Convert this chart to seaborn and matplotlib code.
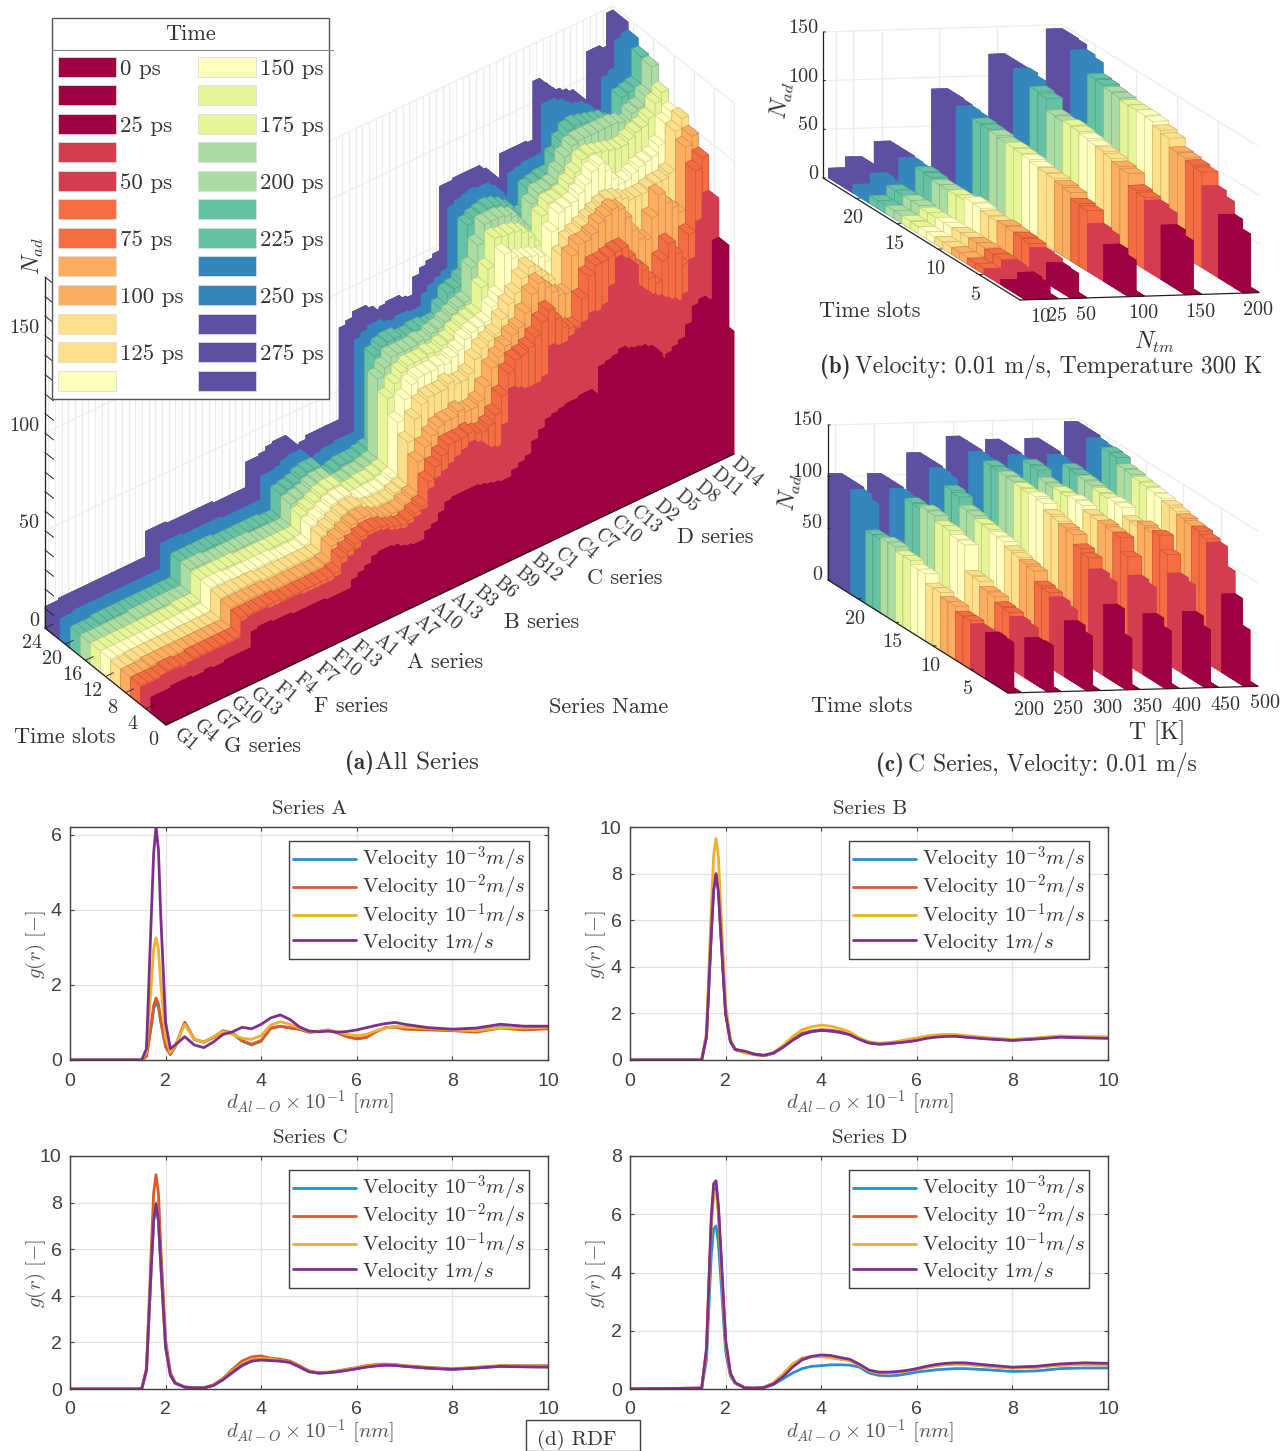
import numpy as np
import pandas as pd
import matplotlib
matplotlib.use("Agg")
import matplotlib.pyplot as plt
import seaborn as sns
from matplotlib.lines import Line2D
from matplotlib.patches import Patch, Rectangle
from mpl_toolkits.mplot3d import proj3d

W, H = 1280, 1451

sns.set_theme(style="white")
plt.rcParams["font.family"] = ["cmr10", "DejaVu Serif"]
plt.rcParams["mathtext.fontset"] = "cm"
plt.rcParams["axes.formatter.use_mathtext"] = False
plt.rcParams["axes.unicode_minus"] = False

# ==========================================================
# DATA
# ==========================================================

series_ticks = ["G1", "G4", "G7", "G10", "G13", "F1", "F4", "F7", "F10", "F13",
                "A1", "A4", "A7", "A10", "A13", "B3", "B6", "B9", "B12",
                "C1", "C4", "C7", "C10", "C13", "D2", "D5", "D8", "D11", "D14"]

# panel a, N_ad per series, one list per time band (front to back)
a_crimson_front = [7,7,7,7,8,8,7,7,7,7,7,8,8,8,8, 14,15,15,14,14,14,13,13,13,13,13,12,12,12,12,
                   16,18,19,22,23,23,22,20,19,18,18,22,24, 27,31,32,32,32,32,31,30,29,28,28,31,33,34,
                   40,43,47,48,48,49,49,50,50,40,59,60,61,62, 60,60,59,57,52,48,50,52,54,59,66,68,65,63]
a_crimson_rear = [8,8,8,9,9,9,8,8,9,8,8,9,9,9,9, 17,18,18,17,17,17,16,16,16,16,16,15,15,15,15,
                  19,21,23,26,27,27,26,24,23,22,22,26,28, 32,36,37,37,37,37,36,35,34,33,33,36,38,40,
                  46,50,54,55,56,57,57,58,58,47,68,69,70,72, 70,69,68,66,60,56,58,60,62,68,76,78,75,105]
a_red = [9,9,9,10,10,10,9,10,10,10,10,10,10,10,10, 18,19,19,19,18,18,18,18,18,17,17,17,17,17,18,
         23,25,27,30,31,31,30,28,27,26,27,29,31,
         40,44,46,48,50,52,54,52,48,46,45,55,72,70,
         68,68,68,70,84,82,82,84,86,88,91,90,92,100,
         113,110,96,92,88,85,83,80,78,75,78,94,112,125]
a_orange = [10,10,10,10,11,11,10,10,11,11,11,11,11,11,11, 20,20,20,20,20,20,19,19,19,19,19,19,19,19,20,
            26,28,30,32,33,33,32,30,29,28,29,31,33,
            44,50,54,58,58,58,59,57,56,58,62,70,80,85,
            86,88,92,98,102,96,90,88,87,100,110,114,114,115,
            116,116,110,104,100,94,90,100,107,100,93,107,138,143]
a_peach = [10,10,10,11,11,11,11,11,11,11,11,11,11,11,11, 21,21,21,21,21,21,20,20,20,20,20,20,20,20,21,
           28,30,32,34,35,35,33,31,30,30,30,32,34,
           50,56,60,63,64,64,66,64,64,66,72,80,84,88,
           92,94,100,108,112,108,104,101,100,118,122,122,124,128,
           130,132,130,124,116,110,108,118,128,122,118,114,146,150]
a_yellow = [10,10,11,11,11,11,11,11,11,11,11,11,11,11,11, 22,22,22,22,22,22,21,21,21,21,21,21,21,21,21,
            29,31,33,35,36,36,33,32,31,31,31,33,34,
            56,66,72,74,74,74,76,74,74,76,82,86,88,90,
            96,102,106,112,116,112,108,104,96,114,120,122,124,126,
            128,130,131,130,128,126,126,126,127,128,128,130,150,155]
a_pale = [11,11,11,11,11,11,11,11,11,11,11,11,11,11,11, 23,23,23,22,22,22,22,22,22,22,21,21,21,21,22,
          30,32,34,36,37,37,33,32,32,32,32,33,35,
          62,72,78,80,80,80,81,80,82,84,88,90,91,92,
          98,102,122,118,116,115,114,112,108,122,130,131,132,135,
          138,143,145,140,134,130,130,132,134,135,136,140,150,154]
a_yg = [11,11,11,11,11,11,11,11,11,11,11,11,12,12,12, 23,23,23,23,23,23,22,22,22,22,22,22,22,22,22,
        31,33,35,37,38,38,33,32,32,33,33,34,35,
        70,76,80,82,82,82,83,82,84,85,88,90,91,92,
        104,112,126,125,125,124,122,118,112,126,131,131,132,136,
        140,145,146,145,144,143,142,142,144,146,147,150,156,160]
a_lgreen = [11,11,11,11,11,11,11,12,12,12,12,12,12,12,12, 24,24,24,23,23,23,23,23,23,23,22,22,22,22,22,
            33,34,35,37,38,38,33,32,32,33,33,34,35,
            76,80,84,84,84,84,85,84,86,87,89,91,93,94,
            110,120,129,129,129,128,126,121,116,128,132,132,133,138,
            144,148,149,149,149,149,149,149,148,146,150,151,156,169]
a_teal = [11,11,11,12,12,12,12,12,12,12,12,12,12,12,12, 24,24,24,24,24,24,23,23,23,23,23,23,23,22,22,
          34,35,36,38,39,39,34,32,33,34,34,34,35,
          36,82,85,86,86,84,84,85,85,84,84,90,96,97,
          100,126,128,129,130,129,127,124,118,118,130,131,132,132,
          140,146,150,151,150,149,148,147,144,140,154,155,156,170]
a_blue = [11,11,12,12,12,12,12,12,12,12,12,12,12,12,12, 25,25,25,24,24,24,24,24,24,23,23,23,23,23,23,
          35,35,36,38,39,39,34,32,33,34,34,35,35,
          35,82,84,86,86,84,83,84,84,83,83,89,92,94,
          96,127,129,130,131,130,130,127,120,119,130,131,132,132,
          132,157,157,155,152,150,149,146,141,136,156,158,172,174]
a_purple = [11,11,12,12,12,12,12,12,12,12,12,12,12,12,12, 25,25,25,24,24,24,24,24,24,24,23,23,23,23,23,
            36,36,37,39,40,40,34,32,33,35,35,35,35,
            35,82,84,87,87,85,82,83,84,84,82,81,90,93,
            95,97,130,130,131,131,131,131,128,120,118,132,132,132,
            132,131,161,157,153,151,149,147,142,136,163,163,161,178]

# panel b, N_ad per time slot (1 to 24) for each N_tm
b_ntm = [10, 25, 50, 100, 150, 200]
b_n10 = [0.5,4,5,5,6,6,6,7,7,7,7,7,7,7,8,8,8,8,8,9,9,10,10,10]
b_n25 = [0.5,10,12,13,14,15,15,16,16,16,16,16,16,16,16,18,18,18,18,18,20,21,21,21]
b_n50 = [0.5,20,21,25,26,30,31,32,33,32,33,35,36,33,33,33,33,35,36,34,35,36,36,36]
b_n100 = [0.5,32,38,47,49,62,64,70,72,74,75,76,78,79,80,80,82,83,84,85,86,87,88,88]
b_n150 = [0.5,50,56,68,71,74,76,88,90,93,95,96,98,100,101,100,101,113,115,120,123,122,122,122]
b_n200 = [0.5,55,65,78,84,98,100,102,103,112,115,119,120,120,120,122,123,125,126,137,140,145,146,146]

# panel c, N_ad per time slot (1 to 24) for each temperature
c_temp = [200, 250, 300, 350, 400, 450, 500]
c_200 = [0.5,44,45,44,44,47,47,52,52,56,56,65,65,69,69,73,73,71,71,96,101,103,103,103]
c_250 = [0.5,40,39,48,50,54,55,60,61,66,67,92,93,97,97,102,103,100,101,100,101,102,102,102]
c_300 = [0.5,48,54,64,68,72,74,84,86,88,90,94,95,97,98,101,102,110,112,118,120,121,121,121]
c_350 = [0.5,45,69,90,94,105,109,118,120,122,124,130,132,131,132,133,134,134,135,134,135,136,136,136]
c_400 = [0.5,51,59,84,87,105,119,120,122,122,123,127,128,126,127,126,127,134,135,130,131,132,132,132]
c_450 = [0.5,51,60,85,88,106,120,118,120,115,116,124,125,124,125,127,128,129,130,129,130,132,132,132]
c_500 = [0.5,50,76,98,117,120,123,124,126,128,130,132,133,134,135,137,138,144,145,144,145,147,147,147]

# panel d, radial distribution functions
rdf_r = [0,1.5,1.6,1.7,1.75,1.8,1.85,1.9,2.0,2.1,2.2,2.4,2.6,2.8,3.0,3.2,3.4,3.6,3.8,4.0,
         4.2,4.4,4.6,4.8,5.0,5.2,5.4,5.6,5.8,6.0,6.2,6.4,6.6,6.8,7.0,7.5,8.0,8.5,9.0,9.5,10]
a_g3 = [0,0,.1,.9,1.35,1.55,1.4,1.0,.35,.15,.35,1.0,.55,.47,.6,.77,.7,.5,.4,.5,
        .85,.9,.85,.82,.74,.76,.78,.72,.62,.57,.6,.76,.86,.88,.84,.82,.79,.78,.87,.82,.85]
a_g2 = [0,0,.1,.95,1.45,1.65,1.5,1.05,.38,.15,.36,1.0,.55,.48,.6,.78,.72,.52,.42,.52,
        .84,.9,.86,.82,.74,.76,.8,.72,.62,.56,.6,.75,.86,.88,.82,.8,.78,.74,.85,.8,.83]
a_g1 = [0,0,.2,2.0,2.95,3.25,2.95,2.0,.6,.2,.38,.95,.55,.48,.62,.76,.68,.58,.55,.65,
        .93,1.02,.95,.85,.76,.77,.8,.75,.68,.65,.68,.78,.85,.9,.87,.84,.8,.78,.86,.85,.87]
a_g0 = [0,0,.3,3.8,5.5,6.2,5.6,3.8,1.0,.3,.4,.62,.4,.33,.48,.68,.75,.87,.83,.95,
        1.12,1.2,1.08,.88,.77,.75,.77,.74,.76,.8,.86,.92,.97,1.0,.95,.86,.82,.85,.95,.9,.9]
b_g3 = [0,0,1.0,5.5,7.4,8.0,7.3,5.5,2.0,.8,.45,.35,.25,.18,.28,.55,.85,1.1,1.22,1.28,
        1.25,1.2,1.1,.9,.75,.68,.7,.75,.8,.85,.95,1.0,1.03,1.04,1.0,.92,.85,.92,1.0,.97,.95]
b_g2 = [0,0,1.0,5.5,7.4,8.0,7.3,5.5,2.0,.82,.47,.33,.25,.2,.3,.58,.9,1.15,1.25,1.3,
        1.28,1.22,1.12,.92,.76,.7,.72,.76,.82,.88,.96,1.02,1.05,1.05,1.0,.93,.86,.93,1.0,.98,.97]
b_g1 = [0,0,1.2,6.5,8.8,9.5,8.7,6.5,2.4,.9,.45,.3,.22,.18,.3,.62,1.0,1.3,1.42,1.5,
        1.45,1.35,1.2,.95,.78,.72,.75,.8,.88,.95,1.03,1.08,1.1,1.1,1.05,.96,.88,.95,1.03,1.0,1.0]
b_g0 = [0,0,1.0,5.4,7.3,7.95,7.2,5.4,2.0,.8,.45,.38,.25,.2,.3,.55,.85,1.1,1.22,1.27,
        1.24,1.18,1.08,.88,.73,.68,.7,.74,.78,.84,.93,.98,1.01,1.02,.98,.9,.84,.9,.98,.95,.93]
c_g3 = [0,0,.8,5.2,7.2,7.9,7.2,5.3,1.8,.6,.25,.08,.05,.05,.15,.4,.7,1.0,1.2,1.25,
        1.22,1.2,1.15,.95,.75,.68,.7,.75,.82,.88,.95,1.0,1.03,1.02,.98,.9,.85,.9,.98,.96,.95]
c_g2 = [0,0,.9,6.0,8.4,9.2,8.4,6.1,2.1,.7,.28,.08,.05,.05,.18,.45,.85,1.2,1.38,1.42,
        1.32,1.28,1.2,1.0,.78,.7,.72,.78,.85,.92,1.0,1.05,1.07,1.05,1.0,.93,.87,.93,1.0,1.0,1.0]
c_g1 = [0,0,.8,5.3,7.3,8.0,7.3,5.4,1.85,.62,.26,.08,.05,.05,.16,.42,.78,1.08,1.28,1.3,
        1.28,1.22,1.15,.96,.76,.7,.72,.76,.83,.9,.97,1.02,1.04,1.03,.98,.9,.85,.92,.98,.97,.96]
c_g0 = [0,0,.8,5.25,7.25,7.95,7.25,5.35,1.8,.6,.25,.08,.05,.05,.15,.4,.72,1.02,1.2,1.25,
        1.22,1.2,1.14,.95,.74,.68,.7,.74,.8,.87,.94,.99,1.02,1.01,.97,.89,.84,.9,.97,.95,.94]
d_g3 = [0,.03,1.0,4.6,5.5,5.6,5.0,3.8,1.3,.45,.2,.04,.03,.05,.15,.35,.55,.7,.78,.8,
        .83,.83,.82,.75,.55,.47,.45,.47,.52,.58,.62,.66,.68,.7,.7,.66,.6,.62,.7,.72,.72]
d_g2 = [0,.03,1.3,5.7,6.8,6.9,6.1,4.6,1.6,.5,.2,.04,.03,.06,.2,.5,.85,1.05,1.12,1.12,
        1.08,1.03,.98,.82,.62,.55,.55,.58,.62,.68,.75,.8,.84,.86,.85,.78,.72,.75,.82,.84,.83]
d_g1 = [0,.03,1.3,5.6,6.7,6.8,6.0,4.5,1.6,.5,.2,.04,.03,.06,.2,.5,.85,1.02,1.1,1.12,
        1.08,1.03,.98,.82,.62,.55,.55,.58,.62,.68,.75,.8,.84,.86,.85,.78,.72,.75,.82,.84,.83]
d_g0 = [0,.03,1.4,5.9,7.05,7.15,6.3,4.8,1.7,.55,.22,.04,.03,.05,.17,.42,.75,1.0,1.12,1.17,
        1.15,1.08,1.02,.85,.65,.58,.58,.6,.64,.7,.78,.84,.88,.9,.9,.82,.75,.78,.86,.9,.88]

vel_labels = [r"Velocity $10^{-3}m/s$", r"Velocity $10^{-2}m/s$", r"Velocity $10^{-1}m/s$", r"Velocity $1m/s$"]
vel_colors = ["#2a8fd0", "#dd5a25", "#efb02e", "#7e2f8e"]

legend_labels = ["0 ps", "", "25 ps", "", "50 ps", "", "75 ps", "", "100 ps", "", "125 ps", "",
                 "150 ps", "", "175 ps", "", "200 ps", "", "225 ps", "", "250 ps", "", "275 ps", ""]

# ==========================================================
# STYLE
# ==========================================================

spectral_map = sns.color_palette("Spectral", as_cmap=True)
spectral = [tuple(spectral_map(v))[:3] for v in np.linspace(0, 1, 11)]
slot_band = [0, 0, 0, 1, 1, 2, 2, 3, 3, 4, 4, 5, 5, 6, 6, 7, 7, 8, 8, 9, 9, 10, 10, 10]
GRID = "#ececec"
DARK = "#404040"
TXT = "#333333"

fig = plt.figure(figsize=(W / 100, H / 100), dpi=100, facecolor="white")


def put(x, y, s, size=16.5, ha="center", va="center", **kw):
    return fig.text(x / W, 1 - y / H, s, fontsize=size, ha=ha, va=va, color=kw.pop("color", TXT), **kw)


def to_px(ax, x, y, z):
    xs, ys, _ = proj3d.proj_transform(x, y, z, ax.get_proj())
    px = ax.transData.transform((xs, ys))
    return px[0], H - px[1]


def make_3d(origin, xv, yv, zpx, xlim, ylim, zlim):
    # xv and yv are the pixel vectors of the floor edges, yv pointing to the back
    sin_e = np.sqrt((xv[1] / xv[0]) * (yv[1] / -yv[0]))
    alpha = np.arctan((yv[1] / -yv[0]) / sin_e)
    elev = np.degrees(np.arcsin(sin_e))
    lx = xv[0] / np.sin(alpha)
    ly = -yv[0] / np.cos(alpha)
    lz = zpx / np.cos(np.arcsin(sin_e))
    ax = fig.add_axes([0, 0, 1000 / W, 1000 / H], projection="3d", proj_type="ortho", computed_zorder=False)
    ax.view_init(elev=elev, azim=-180 + np.degrees(alpha))
    ax.set_box_aspect((lx, ly, lz))
    ax.patch.set_visible(False)
    ax.set_axis_off()
    ax.fit = (origin, xv, (lx, ly, lz), xlim, ylim, zlim)
    return ax


def fit_3d(ax):
    origin, xv, box, xlim, ylim, zlim = ax.fit
    ax.set_xlim(*xlim, view_margin=0)
    ax.set_ylim(*ylim, view_margin=0)
    ax.set_zlim(*zlim, view_margin=0)
    ax.apply_aspect()
    p0 = np.array(to_px(ax, xlim[0], ylim[0], zlim[0]))
    p1 = np.array(to_px(ax, xlim[1], ylim[0], zlim[0]))
    ax.set_box_aspect(box, zoom=np.hypot(*xv) / np.hypot(*(p1 - p0)))
    ax.apply_aspect()
    p0 = np.array(to_px(ax, xlim[0], ylim[0], zlim[0]))
    pos = ax.get_position(original=True)
    ax.set_position([pos.x0 + (origin[0] - p0[0]) / W, pos.y0 - (origin[1] - p0[1]) / H, pos.width, pos.height])
    ax.apply_aspect()


def bar(ax, x, y, dx, dy, h, band):
    c = spectral[band]
    # edges only show on the light bands
    k = 1.0 if band in (0, 1, 9, 10) else 0.8
    edge = tuple(k * v for v in c)
    ax.bar3d(x, y, 0, dx, dy, h, color=c, shade=False, edgecolor=edge, linewidth=0.35)


def walls(ax, xticks, yticks, zticks, xlim, ylim, zlim):
    for x in xticks:
        ax.plot([x, x], [ylim[1], ylim[1]], zlim, color=GRID, lw=0.8, zorder=0.5)
    for y in yticks:
        ax.plot([xlim[1], xlim[1]], [y, y], zlim, color=GRID, lw=0.8, zorder=0.5)
    for z in zticks:
        ax.plot(xlim, [ylim[1], ylim[1]], [z, z], color=GRID, lw=0.8, zorder=0.5)
        ax.plot([xlim[1], xlim[1]], ylim, [z, z], color=GRID, lw=0.8, zorder=0.5)
    ax.plot(xlim, [ylim[1], ylim[1]], [zlim[1], zlim[1]], color=GRID, lw=0.8, zorder=0.5)
    ax.plot([xlim[1], xlim[1]], ylim, [zlim[1], zlim[1]], color=GRID, lw=0.8, zorder=0.5)


def frame(ax, xlim, ylim, zlim):
    ax.plot(xlim, [ylim[0], ylim[0]], [0, 0], color="#222222", lw=0.9, zorder=3)
    ax.plot([xlim[0], xlim[0]], ylim, [0, 0], color="#222222", lw=0.9, zorder=3)
    ax.plot([xlim[0], xlim[0]], [ylim[1], ylim[1]], zlim, color="#222222", lw=0.9, zorder=3)


# ==========================================================
# PANEL A
# ==========================================================

a_rows = [a_crimson_front, a_crimson_rear, a_red, a_orange, a_peach, a_yellow, a_pale, a_yg, a_lgreen, a_teal, a_blue, a_purple]
a_bands = [0, 0, 1, 2, 3, 4, 5, 6, 7, 8, 9, 10]
a_edges = [0, 1, 3, 5, 7, 9, 11, 13, 15, 17, 19, 21, 24]

ax_a = make_3d((166, 725), (568, 271), (-121, 97), 351, (0, 85), (0, 24), (0, 180))
walls(ax_a, np.arange(0.5, 85, 1), np.arange(0, 25, 4), [50, 100, 150], (0, 85), (0, 24), (0, 180))
for k in range(11, -1, -1):
    for i in range(84, -1, -1):
        bar(ax_a, i, a_edges[k], 1, a_edges[k + 1] - a_edges[k], a_rows[k][i], a_bands[k])
frame(ax_a, (0, 85), (0, 24), (0, 180))
for z in range(0, 181, 10):
    ax_a.plot([0, 0], [24, 22.3], [z, z], color="#222222", lw=0.7, zorder=3)
for i in range(0, 85, 3):
    ax_a.plot([i + 0.5, i + 0.5], [0, 0.5], [0, 0], color="#222222", lw=0.6, zorder=3)
for t in range(0, 25, 4):
    ax_a.plot([0, 1.2], [t, t], [0, 0], color="#222222", lw=0.6, zorder=3)
fit_3d(ax_a)

for name, i in zip(series_ticks, range(0, 85, 3)):
    px, py = to_px(ax_a, i + 0.5, 0, 0)
    put(px + 16, py + 17, name, size=14, rotation=-40, rotation_mode="anchor")
for t in range(0, 25, 4):
    px, py = to_px(ax_a, 0, t, 0)
    put(px - 13, py + 15, str(t), size=14.5)
for z in [0, 50, 100, 150]:
    px, py = to_px(ax_a, 0, 24, z)
    put(px - 6, py - 7, str(z), size=14.5, ha="right")
put(33, 256, r"$N_{ad}$", size=17, rotation=90)
put(65, 737, "Time slots", size=16)
for label, lx, ly in [("G series", 262, 746), ("F series", 351, 706), ("A series", 445, 662),
                      ("B series", 542, 622), ("C series", 625, 578), ("D series", 715, 537)]:
    put(lx, ly, label, size=16)
put(609, 707, "Series Name", size=16)
put(345, 763, "(a)", size=16.5, ha="left", family="cmb10")
put(375, 763, "All Series", size=18, ha="left")

# ==========================================================
# PANEL B
# ==========================================================

b_rows = [b_n10, b_n25, b_n50, b_n100, b_n150, b_n200]
b_xlim, b_ylim, b_zlim = (-1.4, 207), (0, 24), (0, 150)
ax_b = make_3d((1020, 300), (239, 7.4), (-196.8, 122), 146, b_xlim, b_ylim, b_zlim)
walls(ax_b, b_ntm, [5, 10, 15, 20], [50, 100], b_xlim, b_ylim, b_zlim)
for g in range(5, -1, -1):
    for r in range(23, -1, -1):
        bar(ax_b, b_ntm[g] - 7, r, 14, 1, b_rows[g][r], slot_band[r])
frame(ax_b, b_xlim, b_ylim, b_zlim)
for z in [0, 50, 100, 150]:
    ax_b.plot([b_xlim[0], b_xlim[0] + 2], [24, 24], [z, z], color="#222222", lw=0.7, zorder=3)
for t in [5, 10, 15, 20]:
    ax_b.plot([b_xlim[0], b_xlim[0] + 3], [t, t], [0, 0], color="#222222", lw=0.7, zorder=3)
fit_3d(ax_b)

for n in b_ntm:
    px, py = to_px(ax_b, n, 0, 0)
    put(px + 7, py + 17, str(n), size=14.5)
for t in [5, 10, 15, 20]:
    px, py = to_px(ax_b, b_xlim[0], t, 0)
    put(px - 3, py + 20, str(t), size=14.5)
for z in [0, 50, 100, 150]:
    px, py = to_px(ax_b, b_xlim[0], 24, z)
    put(px - 5, py - 4, str(z), size=14.5, ha="right")
put(782, 100, r"$N_{ad}$", size=17, rotation=82)
put(870, 311, "Time slots", size=16)
put(1155, 342, r"$N_{tm}$", size=17)
put(820, 367, "(b)", size=16.5, ha="left", family="cmb10")
put(855, 367, "Velocity: 0.01 m/s, Temperature 300 K", size=17, ha="left")

# ==========================================================
# PANEL C
# ==========================================================

c_rows = [c_200, c_250, c_300, c_350, c_400, c_450, c_500]
c_xlim, c_ylim, c_zlim = (191.5, 509), (0, 24), (0, 150)
ax_c = make_3d((1008, 693), (250, 6.7), (-180, 113), 155, c_xlim, c_ylim, c_zlim)
walls(ax_c, c_temp, [5, 10, 15, 20], [50, 100], c_xlim, c_ylim, c_zlim)
for g in range(6, -1, -1):
    for r in range(23, -1, -1):
        bar(ax_c, c_temp[g] - 8.5, r, 17, 1, c_rows[g][r], slot_band[r])
frame(ax_c, c_xlim, c_ylim, c_zlim)
for z in [0, 50, 100, 150]:
    ax_c.plot([c_xlim[0], c_xlim[0] + 3], [24, 24], [z, z], color="#222222", lw=0.7, zorder=3)
for t in [5, 10, 15, 20]:
    ax_c.plot([c_xlim[0], c_xlim[0] + 4], [t, t], [0, 0], color="#222222", lw=0.7, zorder=3)
fit_3d(ax_c)

for n in c_temp:
    px, py = to_px(ax_c, n, 0, 0)
    put(px + 14, py + 17, str(n), size=14.5)
for t in [5, 10, 15, 20]:
    px, py = to_px(ax_c, c_xlim[0], t, 0)
    put(px - 3, py + 20, str(t), size=14.5)
for z in [0, 50, 100, 150]:
    px, py = to_px(ax_c, c_xlim[0], 24, z)
    put(px - 6, py - 5, str(z), size=14.5, ha="right")
put(790, 492, r"$N_{ad}$", size=17, rotation=82)
put(862, 706, "Time slots", size=16)
put(1157, 733, "T [K]", size=17)
put(876, 765, "(c)", size=16.5, ha="left", family="cmb10")
put(908, 765, "C Series, Velocity: 0.01 m/s", size=17, ha="left")

# ==========================================================
# PANEL D
# ==========================================================

rdf_panels = [
    ("Series A", [a_g3, a_g2, a_g1, a_g0], 70, 827, 6.2, [0, 2, 4, 6], 289, 841),
    ("Series B", [b_g3, b_g2, b_g1, b_g0], 630, 827, 10, [0, 2, 4, 6, 8, 10], 849, 841),
    ("Series C", [c_g3, c_g2, c_g1, c_g0], 70, 1156, 10, [0, 2, 4, 6, 8, 10], 289, 1170),
    ("Series D", [d_g3, d_g2, d_g1, d_g0], 630, 1156, 8, [0, 2, 4, 6, 8], 849, 1170),
]
for title, curves, left, top, ymax, yticks, leg_x, leg_y in rdf_panels:
    ax = fig.add_axes([left / W, 1 - (top + 233) / H, 478 / W, 233 / H])
    df = pd.concat([pd.DataFrame({"r": rdf_r, "g": c, "vel": lab}) for c, lab in zip(curves, vel_labels)])
    sns.lineplot(data=df, x="r", y="g", hue="vel", palette=vel_colors, linewidth=2, errorbar=None, ax=ax)
    ax.set_xlim(0, 10)
    ax.set_ylim(0, ymax)
    ax.set_xticks([0, 2, 4, 6, 8, 10])
    ax.set_yticks(yticks)
    ax.grid(True, color="#e2e2e2", lw=0.9)
    ax.tick_params(direction="in", top=True, right=True, length=3, width=0.8, color=DARK, bottom=True, left=True,
                   labelcolor=DARK, labelsize=14, pad=6)
    ax.tick_params(axis="x", pad=9)
    for lb in ax.get_xticklabels() + ax.get_yticklabels():
        lb.set_fontfamily("Liberation Sans")
    for s in ax.spines.values():
        s.set_color(DARK)
        s.set_linewidth(1.0)
    ax.set_xlabel("")
    ax.set_ylabel("")
    handles, labels = ax.get_legend_handles_labels()
    ax.legend(handles, labels, loc="upper left", bbox_to_anchor=(leg_x / W, 1 - leg_y / H), bbox_transform=fig.transFigure,
              borderaxespad=0, fancybox=False, framealpha=1, edgecolor=DARK, fontsize=15, handlelength=3.0,
              labelspacing=-0.05, borderpad=0.2, handletextpad=0.3, labelcolor=TXT)
    ax.get_legend().get_frame().set_linewidth(1.0)
    put(left + 240, top - 18, title, size=15)
    put(left + 240, top + 276, r"$d_{Al-O}\times 10^{-1}\ [nm]$", size=15, color="#555555")
    put(left - 34, top + 118, r"$g(r)\ [-]$", size=15, rotation=90, color="#555555")

fig.add_artist(Rectangle((526 / W, 0), 114 / W, 31 / H, transform=fig.transFigure, fc="white", ec=DARK, lw=1.0))
put(577, 1440, "(d) RDF", size=15)

# ==========================================================
# LEGEND OF PANEL A
# ==========================================================

bands_24 = [spectral[b] for b in slot_band]
patches = [Patch(facecolor=c, edgecolor="#dddddd", linewidth=0.6) for c in bands_24]
leg = fig.legend(patches, legend_labels, ncols=2, loc="upper left", bbox_to_anchor=(52 / W, 1 - 18 / H),
                 borderaxespad=0, title="Time", title_fontsize=16, fontsize=16.5, fancybox=False, framealpha=1,
                 edgecolor="#555555", handlelength=2.54, handleheight=0.97, labelspacing=0.29,
                 columnspacing=0.64, handletextpad=0.15, borderpad=0.27, labelcolor=TXT)
leg._legend_box.sep = 9.3
leg.get_title().set_color(TXT)
leg.set_zorder(10)
fig.add_artist(Line2D([52 / W, 333 / W], [1 - 50 / H, 1 - 50 / H], transform=fig.transFigure, color="#888888", lw=0.8, zorder=11))

fig.savefig("out.png", dpi=100, facecolor="white")
print("saved")
